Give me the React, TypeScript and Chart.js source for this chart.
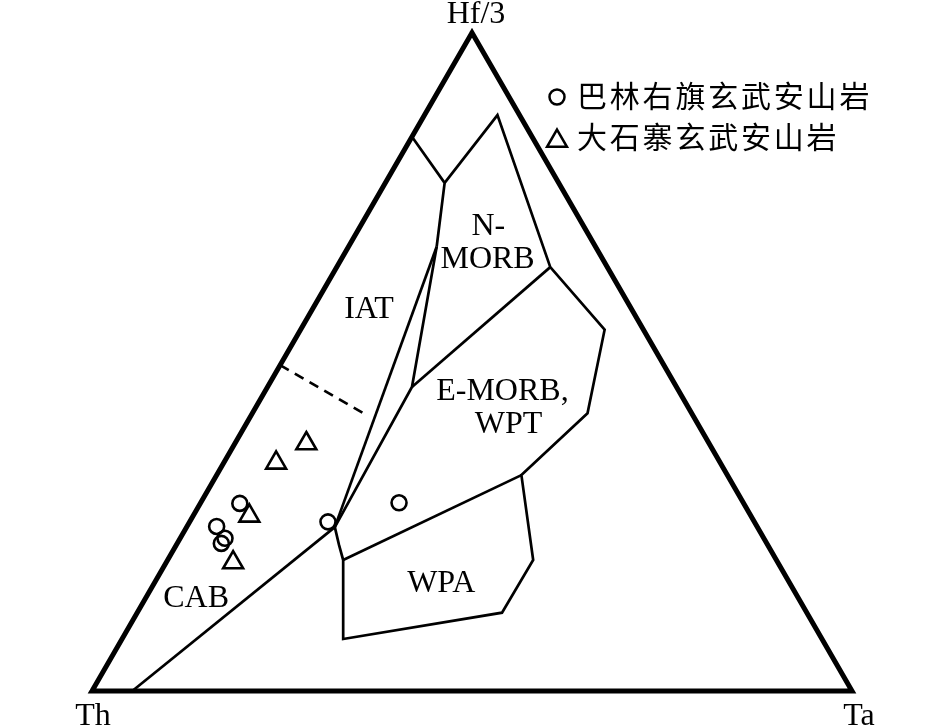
import React, { useEffect, useRef } from "react";
import { Chart, registerables } from "chart.js";

Chart.register(...registerables);

// ---- Data (compositions in %, each triple = [Th, Hf/3, Ta]) ----
const vertexNames = ["Th", "Hf/3", "Ta"];
const seriesNames = ["巴林右旗玄武安山岩", "大石寨玄武安山岩"];

const balinTh = [66.3, 71.1, 70.9, 71.7, 56.1, 45.3];
const balinHf = [28.5, 25.0, 23.2, 22.4, 25.7, 28.6];
const balinTa = [5.2, 3.9, 5.9, 5.8, 18.2, 26.1];

const dashizhaiTh = [53.0, 58.5, 66.0, 71.6];
const dashizhaiHf = [37.6, 34.7, 26.6, 19.5];
const dashizhaiTa = [9.4, 6.9, 7.4, 8.8];

// Field boundary nodes
const vTh = [100, 0, 0];
const vHf = [0, 100, 0];
const vTa = [0, 0, 100];
const nA = [15.8, 84.2, 0];
const nJ = [15.0, 77.2, 7.8];
const nT = [2.9, 87.5, 9.6];
const nP1 = [7.5, 64.4, 28.1];
const nS = [20.9, 67.5, 11.6];
const nP2 = [34.8, 46.2, 19.0];
const nC = [55.6, 24.9, 19.5];
const nB = [94.7, 0, 5.3];
const nM = [56.4, 22.2, 21.4];
const nD = [57.0, 19.9, 23.1];
const nE = [63.0, 7.9, 29.1];
const nF = [40.1, 11.9, 48.0];
const nG = [32.0, 19.9, 48.1];
const nK = [27.1, 32.8, 40.1];
const nR1 = [13.7, 42.2, 44.1];
const nR2 = [5.1, 54.9, 40.0];
const nDs = [50.5, 49.5, 0];
const nDe = [43.2, 42.2, 14.6];

const outline = [vTh, vHf, vTa, vTh, vHf];
const iatUpper = [nA, nJ, nS];
const mainBoundary = [nJ, nT, nP1, nR2, nR1, nK, nG, nF, nE, nD, nM, nC];
const innerLine1 = [nS, nC];
const innerLine2 = [nS, nP2, nC];
const emorbTop = [nP2, nP1];
const wpaTop = [nD, nK];
const cabLine = [nC, nB];
const dashedLine = [nDs, nDe];

const fieldLabels = ["N-", "MORB", "IAT", "E-MORB,", "WPT", "WPA", "CAB"];
const fieldLabelPos = [
  [13.2, 69.3, 17.5],
  [15.8, 64.3, 19.9],
  [35.2, 56.7, 8.1],
  [23.9, 44.2, 31.9],
  [25.6, 39.2, 35.2],
  [46.5, 15.1, 38.4],
  [79.9, 12.8, 7.3],
];

const SQRT3_2 = Math.sqrt(3) / 2;
function toXY(t: number[]) {
  const s = t[0] + t[1] + t[2];
  const hf = t[1] / s;
  const ta = t[2] / s;
  return { x: ta + hf / 2, y: hf * SQRT3_2 };
}

const LINE_COLOR = "#000";

function lineDs(pts: number[][], width: number, dash: number[] = []) {
  return {
    type: "scatter" as const,
    data: pts.map(toXY),
    showLine: true,
    borderColor: LINE_COLOR,
    borderWidth: width,
    borderDash: dash,
    borderJoinStyle: "miter" as const,
    pointRadius: 0,
    pointHoverRadius: 0,
    fill: false,
    clip: false as any,
    tension: 0,
  };
}

function drawCircle(ctx: CanvasRenderingContext2D, x: number, y: number, r: number) {
  ctx.beginPath();
  ctx.arc(x, y, r, 0, Math.PI * 2);
  ctx.stroke();
}
function drawTriangle(ctx: CanvasRenderingContext2D, x: number, y: number, r: number) {
  ctx.beginPath();
  let a = 0;
  ctx.moveTo(x + Math.sin(a) * r, y - Math.cos(a) * r);
  a += (2 * Math.PI) / 3;
  ctx.lineTo(x + Math.sin(a) * r, y - Math.cos(a) * r);
  a += (2 * Math.PI) / 3;
  ctx.lineTo(x + Math.sin(a) * r, y - Math.cos(a) * r);
  ctx.closePath();
  ctx.stroke();
}

const labelPlugin = {
  id: "ternaryLabels",
  afterDraw(chart: any) {
    const ctx: CanvasRenderingContext2D = chart.ctx;
    const xs = chart.scales.x;
    const ys = chart.scales.y;
    const px = (t: number[]) => {
      const p = toXY(t);
      return [xs.getPixelForValue(p.x), ys.getPixelForValue(p.y)];
    };
    ctx.save();
    ctx.fillStyle = "#000";
    ctx.strokeStyle = "#000";
    ctx.font = '32px "Liberation Serif", "Times New Roman", serif';
    ctx.textAlign = "center";
    ctx.textBaseline = "alphabetic";
    fieldLabels.forEach((txt, i) => {
      const [x, y] = px(fieldLabelPos[i]);
      ctx.fillText(txt, x, y);
    });
    // vertex labels
    const [hx, hy] = px(vHf);
    ctx.fillText(vertexNames[1], hx + 4, hy - 10);
    const [tx, ty] = px(vTh);
    ctx.fillText(vertexNames[0], tx + 1, ty + 34);
    const [ax, ay] = px(vTa);
    ctx.fillText(vertexNames[2], ax + 7, ay + 34);

    // legend
    ctx.lineWidth = 2.5;
    drawCircle(ctx, 557, 97, 7.5);
    drawTriangle(ctx, 557, 141, 11.5);
    ctx.font = '30px "Noto Sans CJK SC", sans-serif';
    (ctx as any).letterSpacing = "2.8px";
    ctx.textAlign = "left";
    ctx.textBaseline = "middle";
    ctx.fillText(seriesNames[0], 577, 96);
    ctx.fillText(seriesNames[1], 577, 137);
    ctx.restore();
  },
};

export default function App() {
  const ref = useRef<HTMLCanvasElement | null>(null);
  useEffect(() => {
    document.body.style.margin = "0";
    const canvas = ref.current;
    if (!canvas) return;
    const balinPts = balinTh.map((_, i) => toXY([balinTh[i], balinHf[i], balinTa[i]]));
    const dszPts = dashizhaiTh.map((_, i) =>
      toXY([dashizhaiTh[i], dashizhaiHf[i], dashizhaiTa[i]])
    );
    const chart = new Chart(canvas, {
      type: "scatter",
      data: {
        datasets: [
          {
            label: seriesNames[0],
            data: balinPts,
            pointStyle: "circle",
            pointRadius: 7.5,
            pointBorderWidth: 2.6,
            pointBorderColor: "#000",
            pointBackgroundColor: "rgba(0,0,0,0)",
            borderColor: "#000",
            backgroundColor: "rgba(0,0,0,0)",
            showLine: false,
            clip: false as any,
          },
          {
            label: seriesNames[1],
            data: dszPts,
            pointStyle: "triangle",
            pointRadius: 11.5,
            pointBorderWidth: 2.6,
            pointBorderColor: "#000",
            pointBackgroundColor: "rgba(0,0,0,0)",
            borderColor: "#000",
            backgroundColor: "rgba(0,0,0,0)",
            showLine: false,
            clip: false as any,
          },
          lineDs(outline, 5),
          lineDs(iatUpper, 2.7),
          lineDs(mainBoundary, 2.7),
          lineDs(innerLine1, 2.7),
          lineDs(innerLine2, 2.7),
          lineDs(emorbTop, 2.7),
          lineDs(wpaTop, 2.7),
          lineDs(cabLine, 2.7),
          lineDs(dashedLine, 2.7, [10, 7]),
        ] as any,
      },
      options: {
        animation: false,
        responsive: false,
        devicePixelRatio: 1,
        events: [],
        layout: { padding: 0, autoPadding: false },
        plugins: {
          legend: { display: false },
          tooltip: { enabled: false },
          title: { display: false },
        },
        scales: {
          x: { type: "linear", min: -92 / 760, max: (945 - 92) / 760, display: false },
          y: { type: "linear", min: (691 - 726) / 760, max: 691 / 760, display: false },
        },
      },
      plugins: [labelPlugin],
    });
    return () => chart.destroy();
  }, []);
  return (
    <div style={{ width: 945, height: 726, background: "#fff" }}>
      <canvas ref={ref} width={945} height={726} style={{ display: "block" }} />
    </div>
  );
}
